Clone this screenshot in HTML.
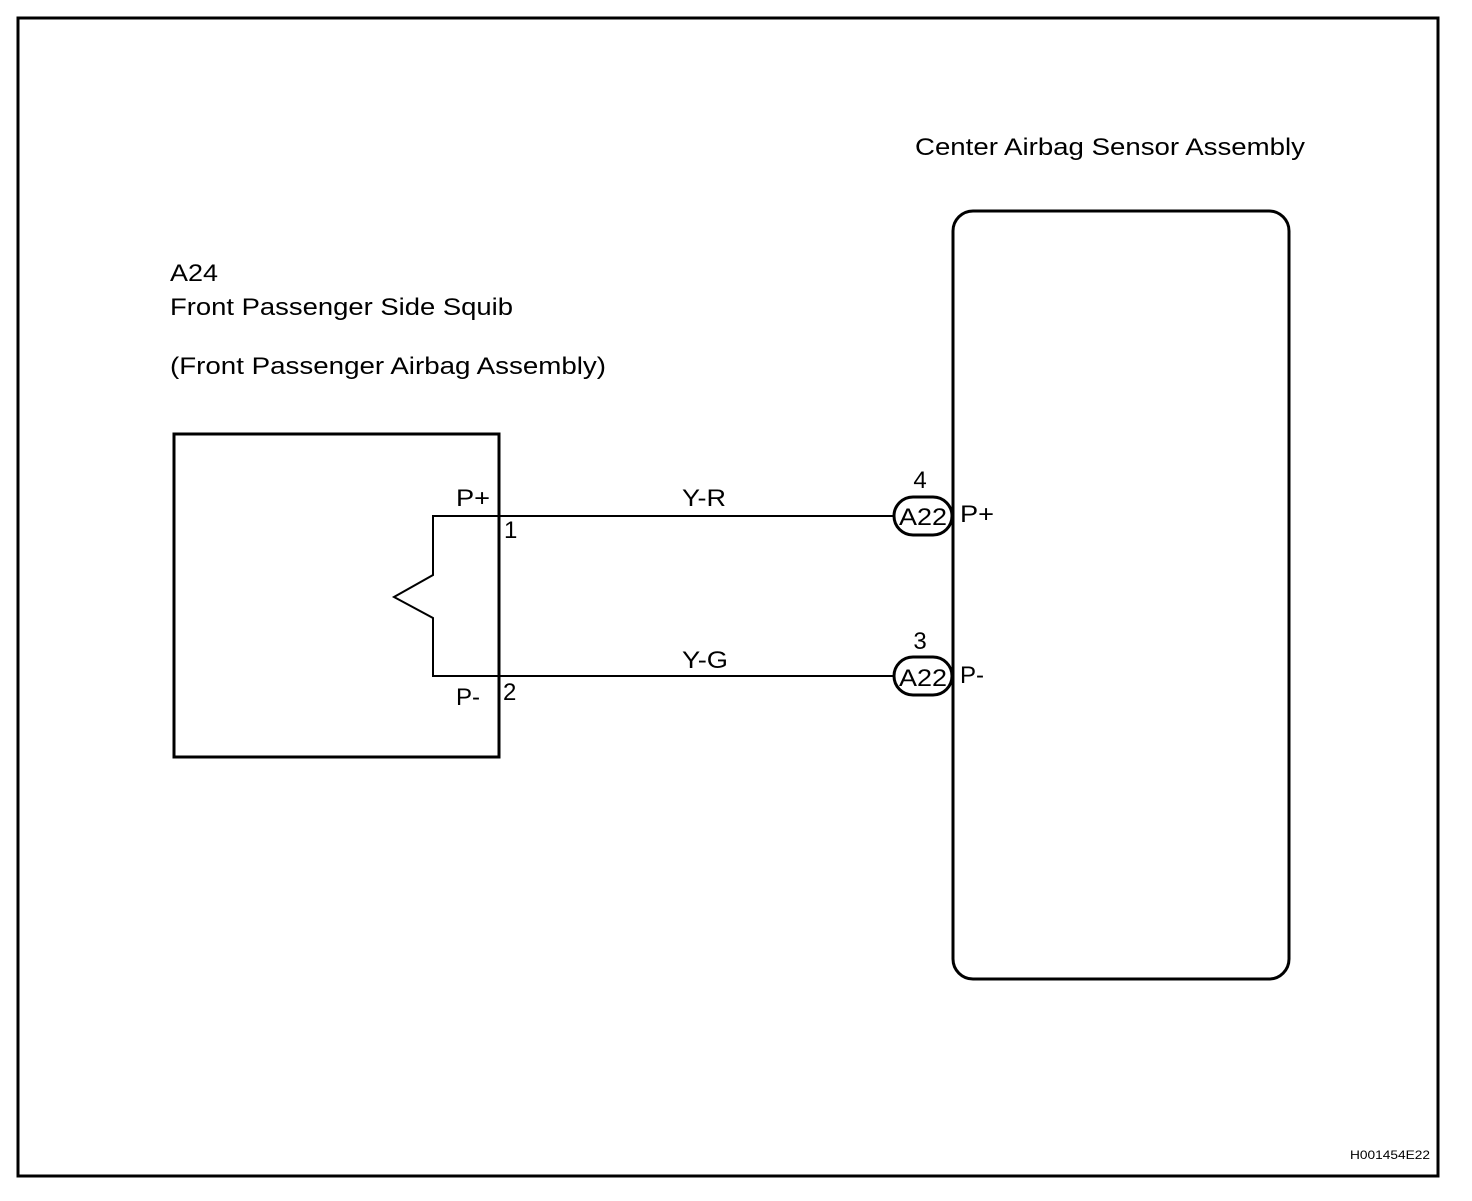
<!DOCTYPE html>
<html><head><style>body{margin:0;background:#fff}</style></head><body>
<svg width="1472" height="1196" xmlns="http://www.w3.org/2000/svg" font-family="Liberation Sans, Arial, sans-serif" font-size="24" fill="#000">
<rect x="18" y="18" width="1420" height="1158" fill="none" stroke="#000" stroke-width="3"/>
<rect x="174" y="434" width="325" height="323" fill="none" stroke="#000" stroke-width="3"/>
<rect x="953" y="211" width="336" height="768" rx="20" fill="none" stroke="#000" stroke-width="3"/>
<polyline points="499,516 433,516 433,575 394,597 433,618 433,676 499,676" fill="none" stroke="#000" stroke-width="2"/>
<line x1="499" y1="516" x2="894" y2="516" stroke="#000" stroke-width="2"/>
<line x1="499" y1="676" x2="894" y2="676" stroke="#000" stroke-width="2"/>
<rect x="894" y="497" width="58" height="38" rx="19" fill="#fff" stroke="#000" stroke-width="3"/>
<rect x="894" y="657" width="58" height="38" rx="19" fill="#fff" stroke="#000" stroke-width="3"/>
<text x="899" y="525" textLength="48" lengthAdjust="spacingAndGlyphs">A22</text>
<text x="899" y="686" textLength="48" lengthAdjust="spacingAndGlyphs">A22</text>
<text x="920" y="488" text-anchor="middle">4</text>
<text x="920" y="649" text-anchor="middle">3</text>
<text x="960" y="522" textLength="34" lengthAdjust="spacingAndGlyphs">P+</text>
<text x="960" y="683">P-</text>
<text x="682" y="506" textLength="44" lengthAdjust="spacingAndGlyphs">Y-R</text>
<text x="682" y="668" textLength="46" lengthAdjust="spacingAndGlyphs">Y-G</text>
<text x="456" y="506" textLength="34" lengthAdjust="spacingAndGlyphs">P+</text>
<text x="456" y="705">P-</text>
<text x="504" y="538">1</text>
<text x="503" y="700">2</text>
<text x="170" y="281" textLength="48" lengthAdjust="spacingAndGlyphs">A24</text>
<text x="170" y="315" textLength="343" lengthAdjust="spacingAndGlyphs">Front Passenger Side Squib</text>
<text x="170" y="374" textLength="436" lengthAdjust="spacingAndGlyphs">(Front Passenger Airbag Assembly)</text>
<text x="915" y="155" textLength="390" lengthAdjust="spacingAndGlyphs">Center Airbag Sensor Assembly</text>
<text x="1350" y="1159" font-size="12" textLength="80" lengthAdjust="spacingAndGlyphs">H001454E22</text>
</svg>
</body></html>
